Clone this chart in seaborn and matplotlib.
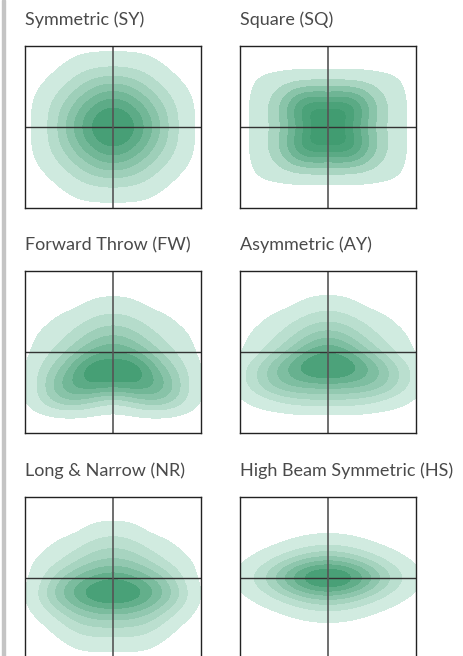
import matplotlib.pyplot as plt
import matplotlib.patches as mpatches
from matplotlib.colors import LinearSegmentedColormap
import pandas as pd
import seaborn as sns

sns.set_theme(style='white')
plt.rcParams['font.family'] = ['Lato', 'DejaVu Sans']

# grid positions (same for every panel), rows run top (y=1) to bottom (y=-1)
grid_x = [-1.0, -0.8, -0.6, -0.4, -0.2, 0.0, 0.2, 0.4, 0.6, 0.8, 1.0]
grid_y = [1.0, 0.8, 0.6, 0.4, 0.2, 0.0, -0.2, -0.4, -0.6, -0.8, -1.0]

titles = ['Symmetric (SY)', 'Square (SQ)', 'Forward Throw (FW)',
          'Asymmetric (AY)', 'Long & Narrow (NR)', 'High Beam Symmetric (HS)']

# light intensity (0 = none, 9 = brightest)
sy = ['00000000000',
      '00011111000',
      '00123332100',
      '01235653210',
      '01357875310',
      '01368986310',
      '01357875310',
      '01235653210',
      '00123332100',
      '00011111000',
      '00000000000']
sq = ['00000000000',
      '00000000000',
      '01111111110',
      '01268686210',
      '01389898310',
      '01268986210',
      '01389898310',
      '01268686210',
      '01111111110',
      '00000000000',
      '00000000000']
fw = ['00000000000',
      '00000000000',
      '00001110000',
      '00112221100',
      '01123432110',
      '01235553210',
      '02359695320',
      '02567576520',
      '02442124420',
      '00000000000',
      '00000000000']
ay = ['00000000000',
      '00000000000',
      '00001110000',
      '00112221100',
      '01123432110',
      '01235653210',
      '12458885421',
      '12444444421',
      '01122222110',
      '00000000000',
      '00000000000']
nr = ['00000000000',
      '00000000000',
      '00001110000',
      '00112221100',
      '01123332110',
      '01345654310',
      '02468886420',
      '01234443210',
      '00122222100',
      '00011111000',
      '00000000000']
hs = ['00000000000',
      '00000000000',
      '00000000000',
      '00001110000',
      '00123432100',
      '01358985310',
      '00123432100',
      '00001110000',
      '00000000000',
      '00000000000',
      '00000000000']
patterns = [sy, sq, fw, ay, nr, hs]
smoothing = [0.9, 0.8, 0.8, 0.8, 0.8, 1.3]

cmap = LinearSegmentedColormap.from_list('beam', ['#dcf1e9', '#3d9a6e'])

fig = plt.figure(figsize=(4.64, 6.56), dpi=100)
W, H = 464, 656
col_x = [25, 240]
row_y = [46, 271, 497]
pw, ph = 176, 162

fig.patches.append(mpatches.Rectangle((2 / W, 0), 3 / W, 1, transform=fig.transFigure,
                                      color='#c4c4c4', zorder=0))

for i, (title, rows) in enumerate(zip(titles, patterns)):
    r, c = divmod(i, 2)
    x0, y0 = col_x[c], row_y[r]
    ax = fig.add_axes([x0 / W, 1 - (y0 + ph) / H, pw / W, ph / H])
    df = pd.DataFrame([(gx, gy, int(v)) for gy, row in zip(grid_y, rows)
                       for gx, v in zip(grid_x, row)], columns=['x', 'y', 'w'])
    df = df[df.w > 0]
    sns.kdeplot(data=df, x='x', y='y', weights='w', fill=True, levels=8, thresh=0.05,
                bw_adjust=smoothing[i], gridsize=200, cmap=cmap, ax=ax)
    ax.axhline(0, color='#333333', lw=1)
    ax.axvline(0, color='#555555', lw=1.2)
    ax.set_xlim(-1, 1)
    ax.set_ylim(-1, 1)
    ax.set_xticks([])
    ax.set_yticks([])
    ax.set_xlabel('')
    ax.set_ylabel('')
    for s in ax.spines.values():
        s.set_color('#222222')
        s.set_linewidth(1)
    fig.text(x0 / W, 1 - (y0 - 26) / H, title, fontsize=13,
             color='#4a4a4a', va='center')

fig.savefig('out.png', dpi=100)
